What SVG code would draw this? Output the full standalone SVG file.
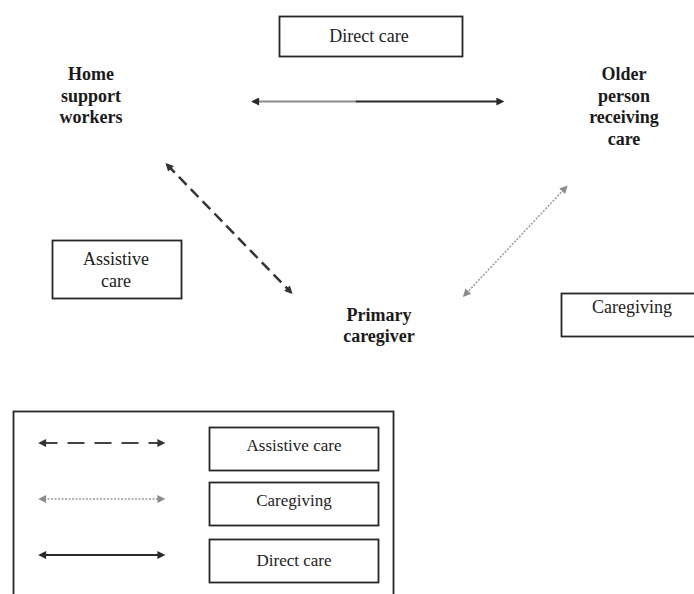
<svg xmlns="http://www.w3.org/2000/svg" width="694" height="594" viewBox="0 0 694 594">
  <style>
    .box { fill: #ffffff; stroke: #262626; stroke-width: 1.8; }
    .lbl { font-family: "Liberation Serif", "Times New Roman", serif; font-size: 18px; fill: #222222; text-anchor: middle; }
    .lgd { font-family: "Liberation Serif", "Times New Roman", serif; font-size: 17px; fill: #222222; text-anchor: middle; }
    .node { font-family: "Liberation Serif", "Times New Roman", serif; font-size: 18px; font-weight: bold; fill: #1a1a1a; text-anchor: middle; }
    .solid { fill: none; stroke: #2a2a2a; stroke-width: 2.2; }
    .solid-light { fill: none; stroke: #8a8a8a; stroke-width: 2.2; }
    .dashed { fill: none; stroke: #333333; stroke-width: 2.5; stroke-dasharray: 11 6; }
    .dashed-lgd { fill: none; stroke: #444444; stroke-width: 2.2; stroke-dasharray: 17 10; }
    .dotted { fill: none; stroke: #9a9a9a; stroke-width: 1.5; stroke-dasharray: 2 1.5; }
  </style>
  <defs>
    <marker id="ah-dark" viewBox="0 0 10 10" refX="7" refY="5" markerWidth="9" markerHeight="8" markerUnits="userSpaceOnUse" orient="auto-start-reverse">
      <path d="M0,0 L10,5 L0,10 z" fill="#2a2a2a"/>
    </marker>
    <marker id="ah-dash" viewBox="0 0 10 10" refX="7" refY="5" markerWidth="9" markerHeight="8" markerUnits="userSpaceOnUse" orient="auto-start-reverse">
      <path d="M0,0 L10,5 L0,10 z" fill="#333333"/>
    </marker>
    <marker id="ah-gray" viewBox="0 0 10 10" refX="7" refY="5" markerWidth="9" markerHeight="8" markerUnits="userSpaceOnUse" orient="auto-start-reverse">
      <path d="M0,0 L10,5 L0,10 z" fill="#8c8c8c"/>
    </marker>
  </defs>

  <rect width="694" height="594" fill="#ffffff"/>

  <!-- Nodes -->
  <g id="home-support-workers">
    <text class="node" x="91" y="80">Home</text>
    <text class="node" x="91" y="102">support</text>
    <text class="node" x="91" y="123">workers</text>
  </g>
  <g id="older-person-receiving-care">
    <text class="node" x="624" y="80">Older</text>
    <text class="node" x="624" y="102">person</text>
    <text class="node" x="624" y="123">receiving</text>
    <text class="node" x="624" y="145">care</text>
  </g>
  <g id="primary-caregiver">
    <text class="node" x="379" y="321">Primary</text>
    <text class="node" x="379" y="342">caregiver</text>
  </g>

  <!-- Relationship labels -->
  <g id="label-direct-care">
    <rect class="box" x="279.5" y="16.5" width="183" height="40"/>
    <text class="lbl" x="369" y="42">Direct care</text>
  </g>
  <g id="label-assistive-care">
    <rect class="box" x="52.5" y="240.5" width="129" height="58"/>
    <text class="lbl" x="116" y="265">Assistive</text>
    <text class="lbl" x="116" y="287">care</text>
  </g>
  <g id="label-caregiving">
    <rect class="box" x="561.5" y="293.5" width="150" height="43"/>
    <text class="lbl" x="632" y="313">Caregiving</text>
  </g>

  <!-- Connectors -->
  <g id="connectors">
    <line class="solid-light" x1="253.5" y1="101.5" x2="357" y2="101.5" marker-start="url(#ah-dark)"/>
    <line class="solid" x1="356" y1="101.5" x2="502" y2="101.5" marker-end="url(#ah-dark)"/>
    <line class="dashed" x1="167.1" y1="164.7" x2="290.9" y2="292.3" marker-start="url(#ah-dash)" marker-end="url(#ah-dash)"/>
    <line class="dotted" x1="566" y1="187.2" x2="464.5" y2="295.3" marker-start="url(#ah-gray)" marker-end="url(#ah-gray)"/>
  </g>

  <!-- Legend -->
  <g id="legend">
    <rect class="box" x="13.5" y="411.5" width="380" height="200"/>
    <line class="dashed-lgd" x1="40.5" y1="443" x2="163" y2="443" marker-start="url(#ah-dash)" marker-end="url(#ah-dash)"/>
    <rect class="box" x="209.5" y="427.5" width="169" height="43"/>
    <text class="lgd" x="294" y="451">Assistive care</text>
    <line class="dotted" x1="40.5" y1="499" x2="163" y2="499" marker-start="url(#ah-gray)" marker-end="url(#ah-gray)"/>
    <rect class="box" x="209.5" y="482.5" width="169" height="43"/>
    <text class="lgd" x="294" y="506">Caregiving</text>
    <line class="solid" x1="40.5" y1="555" x2="163" y2="555" marker-start="url(#ah-dark)" marker-end="url(#ah-dark)"/>
    <rect class="box" x="209.5" y="539.5" width="169" height="43"/>
    <text class="lgd" x="294" y="566">Direct care</text>
  </g>
</svg>
